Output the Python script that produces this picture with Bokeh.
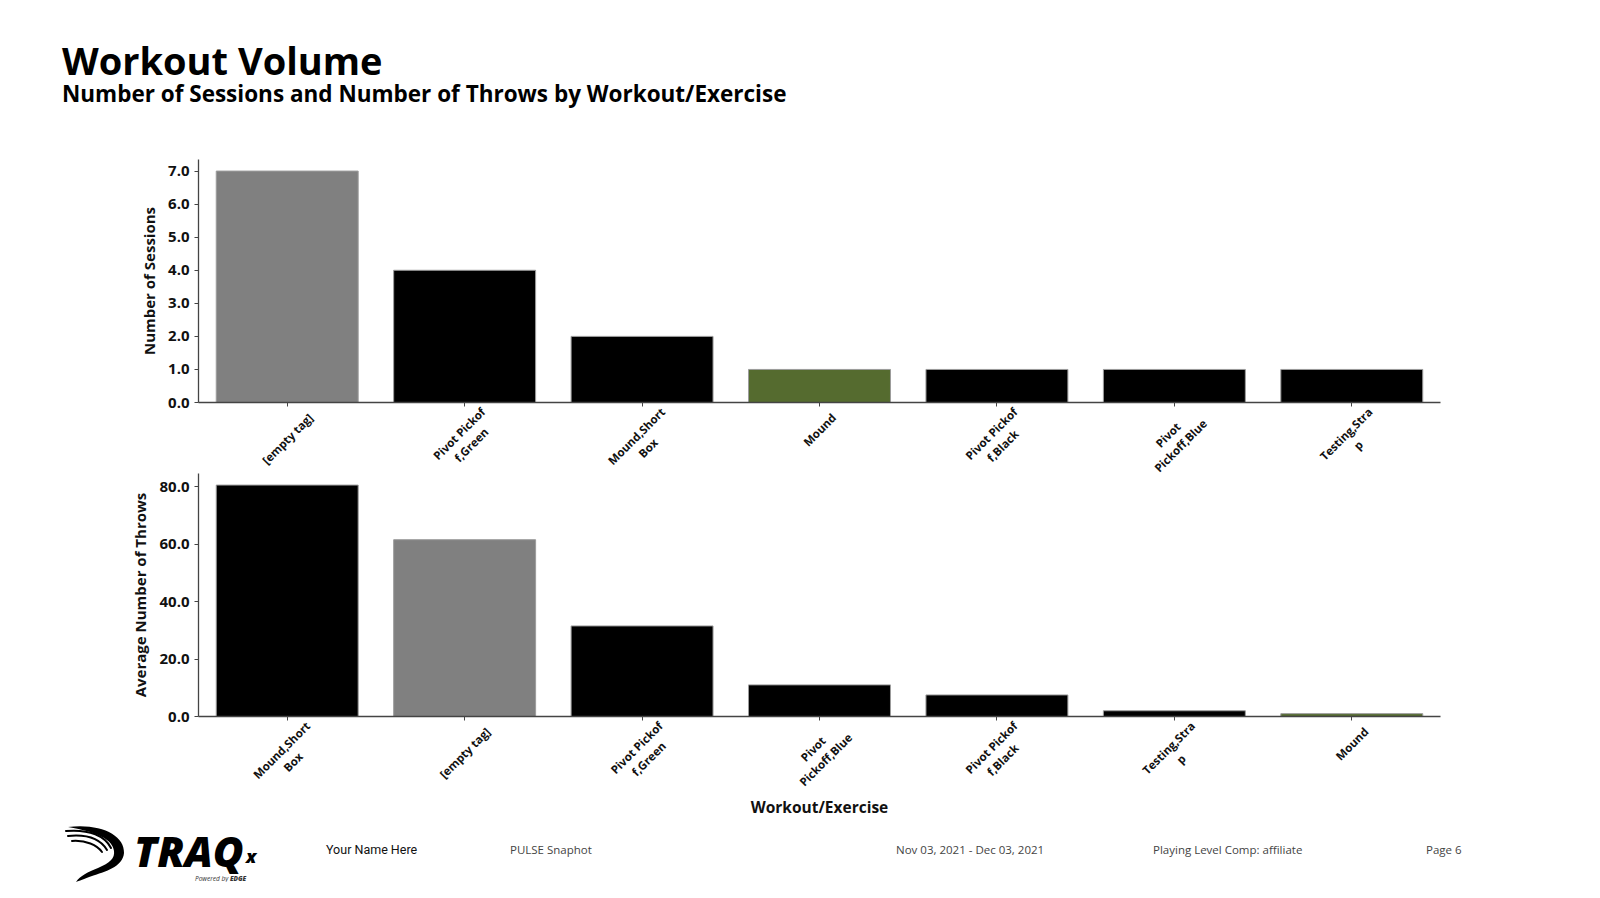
import math
from bokeh.plotting import figure
from bokeh.models import (ColumnDataSource, Range1d, FixedTicker, NumeralTickFormatter,
                          LinearAxis, CustomJSTickFormatter, Div)
from bokeh.layouts import column
from bokeh.embed import file_html
from bokeh.resources import INLINE

# ---------------- data ----------------
title_text = "Workout Volume"
subtitle_text = "Number of Sessions and Number of Throws by Workout/Exercise"

top_categories = ["[empty tag]", "Pivot Pickoff,Green", "Mound,Short Box", "Mound",
                  "Pivot Pickoff,Black", "Pivot Pickoff,Blue", "Testing,Strap"]
top_sessions = [7, 4, 2, 1, 1, 1, 1]
top_yticks = [0, 1, 2, 3, 4, 5, 6, 7]
top_ylabel = "Number of Sessions"

bottom_categories = ["Mound,Short Box", "[empty tag]", "Pivot Pickoff,Green", "Pivot Pickoff,Blue",
                     "Pivot Pickoff,Black", "Testing,Strap", "Mound"]
bottom_throws = [80.5, 61.5, 31.5, 11.0, 7.5, 2.0, 1.0]
bottom_yticks = [0, 20, 40, 60, 80]
bottom_ylabel = "Average Number of Throws"
bottom_xlabel = "Workout/Exercise"

wrapped_labels = {
    "[empty tag]": "[empty tag]",
    "Pivot Pickoff,Green": "Pivot Pickof\nf,Green",
    "Mound,Short Box": "Mound,Short\nBox",
    "Mound": "Mound",
    "Pivot Pickoff,Black": "Pivot Pickof\nf,Black",
    "Pivot Pickoff,Blue": "Pivot\nPickoff,Blue",
    "Testing,Strap": "Testing,Stra\np",
}
highlight_colors = {"[empty tag]": "#808080", "Mound": "#556b2f"}

footer_items = ["Your Name Here", "PULSE Snaphot", "Nov 03, 2021 - Dec 03, 2021",
                "Playing Level Comp: affiliate", "Page 6"]

FONT = "Open Sans"
FRAME_W = 1242
FRAME_H = 243
LABEL_PX = 11.5
LINE_H = 1.1

# approximate advance widths (em) of Open Sans Bold, used only to centre rotated labels
_EM = {"a": .60, "b": .64, "c": .52, "d": .64, "e": .60, "f": .39, "g": .56, "h": .66, "i": .31,
       "k": .60, "l": .31, "m": .98, "n": .66, "o": .63, "p": .64, "r": .45, "s": .50, "t": .43,
       "u": .66, "v": .57, "x": .58, "y": .57, ",": .29, " ": .26, "[": .35, "]": .35, "B": .69,
       "G": .72, "M": .93, "P": .65, "S": .56, "T": .59}
SPACE_EM = 0.26


def text_w(s):
    return LABEL_PX * sum(_EM.get(ch, 0.6) for ch in s)


def centred_lines(text):
    """Pad short lines with no-break spaces so the right-aligned lines look centred."""
    lines = text.split("\n")
    if len(lines) == 1:
        return text
    widest = max(text_w(s) for s in lines)
    out = []
    for s in lines:
        pad = int(round((widest - text_w(s)) / 2 / (SPACE_EM * LABEL_PX)))
        out.append(s + "\u00a0" * pad)
    return "\n".join(out)


def make_chart(cats, vals, yticks, ylabel, xlabel, border_top, border_bottom, margin):
    n = len(cats)
    ymax = max(vals) * 1.05
    p = figure(x_range=Range1d(0, n), y_range=Range1d(0, ymax),
               frame_width=FRAME_W, frame_height=FRAME_H,
               min_border_left=198, min_border_right=152,
               min_border_top=border_top, min_border_bottom=border_bottom,
               x_axis_location=None,
               output_backend="svg", toolbar_location=None, margin=margin)
    centers = [i + 0.5 for i in range(n)]
    colors = [highlight_colors.get(c, "#000000") for c in cats]
    src = ColumnDataSource(dict(x=centers, cat=cats, val=vals, color=colors))
    p.vbar(x="x", top="val", width=0.8, source=src, fill_color="color",
           line_color="#9c9c9c", line_width=1)
    p.outline_line_color = None
    p.grid.visible = False
    p.background_fill_color = "white"
    p.border_fill_color = "white"

    yax = p.yaxis[0]
    yax.ticker = FixedTicker(ticks=yticks, minor_ticks=[])
    yax.formatter = NumeralTickFormatter(format="0.0")
    yax.axis_line_color = "#444444"
    yax.axis_line_width = 1.3
    yax.major_tick_line_color = "#444444"
    yax.major_tick_out = 4
    yax.major_tick_in = 0
    yax.minor_tick_line_color = None
    yax.major_label_text_font = FONT
    yax.major_label_text_font_style = "bold"
    yax.major_label_text_font_size = "15px"
    yax.major_label_text_color = "#111111"
    yax.major_label_standoff = 5
    yax.axis_label = ylabel
    yax.axis_label_text_font = FONT
    yax.axis_label_text_font_style = "bold"
    yax.axis_label_text_font_size = "15px"
    yax.axis_label_text_color = "#111111"
    yax.axis_label_standoff = 6

    # x axis: tick marks (minor ticks) at category centres; rotated labels (major ticks)
    # shifted so that each rotated label is centred under its tick like the original
    label_texts = [wrapped_labels[c] for c in cats]
    unit_px = FRAME_W / n
    pos = []
    for i, t in enumerate(label_texts):
        w = max(text_w(s) for s in t.split("\n"))
        pos.append(centers[i] + w / (2 * math.sqrt(2)) / unit_px)
    shown = [centred_lines(t) for t in label_texts]
    xax = LinearAxis(ticker=FixedTicker(ticks=pos, minor_ticks=centers),
                     formatter=CustomJSTickFormatter(args=dict(labels=shown),
                                                     code="return labels[index];"))
    xax.axis_line_color = "#444444"
    xax.axis_line_width = 1.3
    xax.major_tick_line_color = None
    xax.major_tick_out = 0
    xax.major_tick_in = 0
    xax.minor_tick_line_color = "#444444"
    xax.minor_tick_out = 4
    xax.minor_tick_in = 0
    xax.major_label_orientation = math.pi / 4
    xax.major_label_standoff = 9
    xax.major_label_text_font = FONT
    xax.major_label_text_font_style = "bold"
    xax.major_label_text_font_size = f"{LABEL_PX}px"
    xax.major_label_text_line_height = LINE_H
    xax.major_label_text_color = "#111111"
    if xlabel:
        xax.axis_label = xlabel
        xax.axis_label_text_font = FONT
        xax.axis_label_text_font_style = "bold"
        xax.axis_label_text_font_size = "15.5px"
        xax.axis_label_text_color = "#111111"
        xax.axis_label_standoff = -12
    p.add_layout(xax, "below")
    return p


# top chart: frame at page y 159..402; its lower border is overlapped by the bottom chart
p_top = make_chart(top_categories, top_sessions, top_yticks, top_ylabel, None, 11, 100, 0)
# bottom chart: frame at page y 473..716
p_bot = make_chart(bottom_categories, bottom_throws, bottom_yticks, bottom_ylabel, bottom_xlabel,
                   0, 130, (-29, 0, 0, 0))

title_html = f'''<svg width="1592" height="148" xmlns="http://www.w3.org/2000/svg">
<text x="62" y="75" style="font-family:'Open Sans';font-weight:700;font-size:38px;fill:#000">{title_text}</text>
<text x="62" y="102" style="font-family:'Open Sans';font-weight:700;font-size:22.5px;fill:#000">{subtitle_text}</text>
</svg>'''
title_div = Div(text=title_html, width=1592, height=148, margin=0)

fx = [326, 510, 896, 1153, 1426]
footer_texts = "".join(
    f'<text x="{x}" y="34" style="font-family:{"Roboto" if i == 0 else "Open Sans"};'
    f'font-size:{12.5 if i == 0 else 11.5}px;fill:{"#111" if i == 0 else "#444"}">{t}</text>'
    for i, (x, t) in enumerate(zip(fx, footer_items)))
logo = '''
<path d="M 68 7 C 100 3, 125 15, 124 33 C 123 47, 104 52, 92 56 C 84 59, 79 61, 76 62
         C 80 56, 88 52, 98 48 C 110 43, 115 38, 114 31 C 113 20, 98 12, 68 7 Z" fill="#000"/>
<g fill="none" stroke="#000" stroke-linecap="round">
<path d="M 66 11 C 90 9, 105 16, 111 28" stroke-width="2"/>
<path d="M 68 16 C 88 14, 101 20, 107 30" stroke-width="2"/>
<path d="M 72 21 C 86 20, 97 25, 102 32" stroke-width="2"/>
</g>
<text x="134" y="47" style="font-family:'Open Sans';font-weight:800;font-style:italic;font-size:42px;fill:#000">TRAQ</text>
<text x="246" y="43" style="font-family:'Open Sans';font-weight:800;font-style:italic;font-size:18px;fill:#000">x</text>
<text x="195" y="61" style="font-family:'Open Sans';font-style:italic;font-size:6.5px;fill:#333">Powered by <tspan style="font-weight:800">EDGE</tspan></text>
'''
footer_html = f'<svg width="1592" height="62" xmlns="http://www.w3.org/2000/svg">{logo}{footer_texts}</svg>'
footer_div = Div(text=footer_html, width=1592, height=62, margin=(-26, 0, 0, 0))

layout = column(title_div, p_top, p_bot, footer_div, spacing=0)
open("out.html", "w").write(file_html(layout, INLINE))
